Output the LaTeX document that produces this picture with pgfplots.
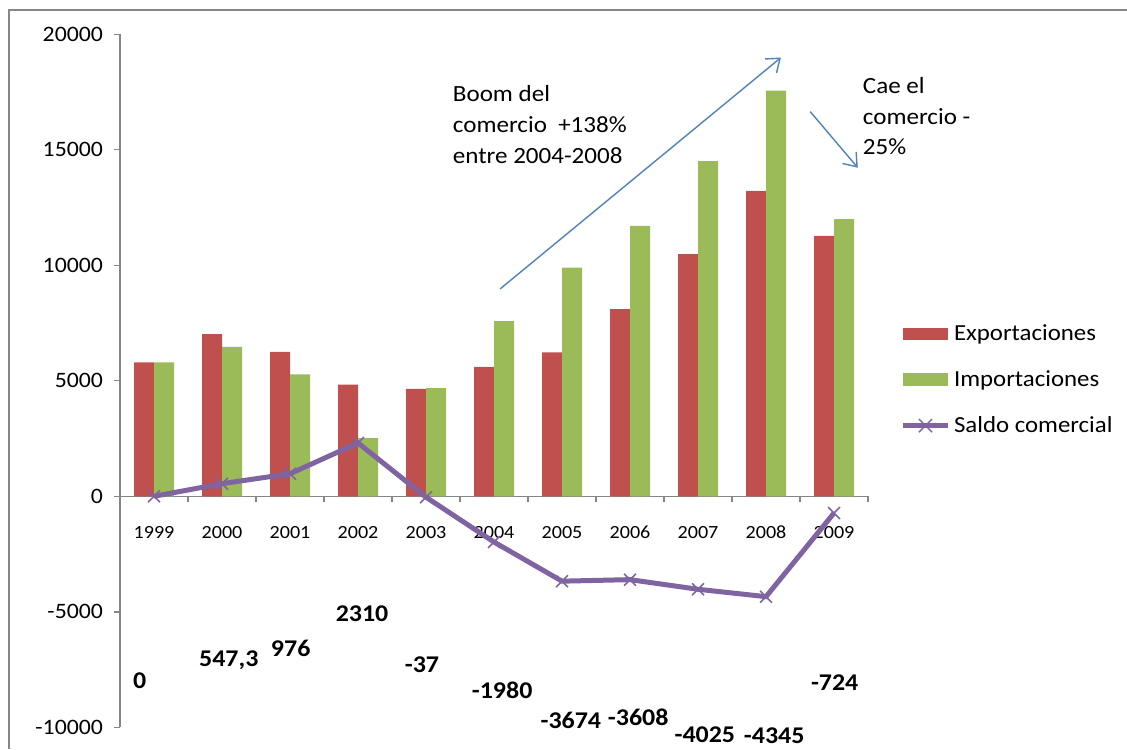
\documentclass[border=0pt]{standalone}
\usepackage{pgfplots}
\pgfplotsset{compat=1.18}
\usepackage{pgfplotstable}
\usepackage{fontspec}
\setmainfont{Carlito}[FakeStretch=1.08]
\usetikzlibrary{arrows.meta}
\definecolor{expred}{HTML}{C0504D}
\definecolor{impgreen}{HTML}{9BBB59}
\definecolor{salpurple}{HTML}{8064A2}
\definecolor{arrowblue}{HTML}{4F81BD}
\definecolor{axgray}{HTML}{868686}

\pgfplotstableread{
idx exp imp sal
0 5800 5800 0
1 7020 6473 547.3
2 6250 5274 976
3 4830 2520 2310
4 4650 4687 -37
5 5600 7580 -1980
6 6230 9904 -3674
7 8100 11708 -3608
8 10480 14505 -4025
9 13220 17565 -4345
10 11270 11994 -724
}\datatable

\begin{document}
\begin{tikzpicture}
\useasboundingbox (0,0) rectangle (563.5pt,374.5pt);
\draw[axgray, line width=0.6pt] (4.5pt,0) -- (4.5pt,369.5pt) -- (563.5pt,369.5pt);
\begin{axis}[
  at={(60pt,10.85pt)}, anchor=south west,
  scale only axis, width=374pt, height=346.5pt,
  xmin=-0.5, xmax=10.5, ymin=-10000, ymax=20000,
  clip=false, scaled y ticks=false,
  axis y line*=left, axis x line*=middle,
  axis line style={axgray, line width=0.7pt},
  ytick={-10000,-5000,0,5000,10000,15000,20000},
  yticklabels={-10000,-5000,0,5000,10000,15000,20000},
  yticklabel style={font=\fontsize{11}{13}\selectfont, xshift=-2pt},
  xtick={-0.5,0.5,...,10.5}, xticklabels={},
  tick align=outside, major tick length=3pt,
  tick style={axgray, line width=0.7pt},
  extra x ticks={0,1,2,3,4,5,6,7,8,9,10},
  extra x tick labels={1999,2000,2001,2002,2003,2004,2005,2006,2007,2008,2009},
  extra x tick style={major tick length=0pt, tick style={draw=none},
     xticklabel style={font=\fontsize{9.3}{11}\selectfont, anchor=north,
       text height=6.5pt, text depth=0pt, yshift=-11pt}},
  legend style={at={(1.0428,0.5014)}, anchor=west, draw=none, fill=none,
     font=\fontsize{11.5}{13}\selectfont, row sep=13.5pt, column sep=1.8pt,
     inner sep=0pt, cells={anchor=west}, nodes={inner sep=0pt}},
]
\addplot[ybar, bar width=10pt, bar shift=-5pt, fill=expred, draw=none,
  legend image code/.code={\fill[expred] (0pt,-3.2pt) rectangle (22.5pt,3.2pt);}]
  table[x=idx,y=exp]{\datatable};
\addlegendentry{Exportaciones}
\addplot[ybar, bar width=10pt, bar shift=5pt, fill=impgreen, draw=none,
  legend image code/.code={\fill[impgreen] (0pt,-3.2pt) rectangle (22.5pt,3.2pt);}]
  table[x=idx,y=imp]{\datatable};
\addlegendentry{Importaciones}
\addplot[salpurple, line width=2.5pt, mark=x, mark size=4.2pt,
  mark options={line width=0.8pt, solid},
  legend image code/.code={\draw[salpurple, line width=2.5pt] (0pt,0pt) -- (22.5pt,0pt);
    \draw[salpurple, line width=0.7pt] (11.25pt,0pt) +(-3.3pt,-3.3pt) -- +(3.3pt,3.3pt) +(-3.3pt,3.3pt) -- +(3.3pt,-3.3pt);}]
  table[x=idx,y=sal]{\datatable};
\addlegendentry{Saldo comercial}

\begin{scope}[every node/.style={font=\bfseries\fontsize{12}{14}\selectfont, inner sep=0pt}]
\node at (axis cs:-0.21,-7965) {0};
\node at (axis cs:1.10,-7098) {547,3};
\node at (axis cs:2.01,-6579) {976};
\node at (axis cs:3.06,-5063) {2310};
\node at (axis cs:3.94,-7272) {-37};
\node at (axis cs:5.12,-8398) {-1980};
\node at (axis cs:6.13,-9697) {-3674};
\node at (axis cs:7.12,-9567) {-3608};
\node at (axis cs:8.10,-10303) {-4025};
\node at (axis cs:9.12,-10347) {-4345};
\node at (axis cs:10.01,-8051) {-724};
\end{scope}

\draw[arrowblue, line width=0.7pt, -{Straight Barb[length=6pt,width=9pt]}]
  (axis cs:5.09,8977) -- (axis cs:9.22,18994);
\draw[arrowblue, line width=0.7pt, -{Straight Barb[length=6pt,width=9pt]}]
  (axis cs:9.65,16652) -- (axis cs:10.35,14224);

\node[anchor=north west, align=left, inner sep=0pt, font=\fontsize{11.6}{15.5}\selectfont]
  at (axis cs:4.39,17805) {Boom del\\comercio\ \ +138\%\\entre 2004-2008};
\node[anchor=north west, align=left, inner sep=0pt, font=\fontsize{11.6}{15.3}\selectfont]
  at (axis cs:10.42,18151) {Cae el\\comercio -\\25\%};
\end{axis}
\end{tikzpicture}
\end{document}
